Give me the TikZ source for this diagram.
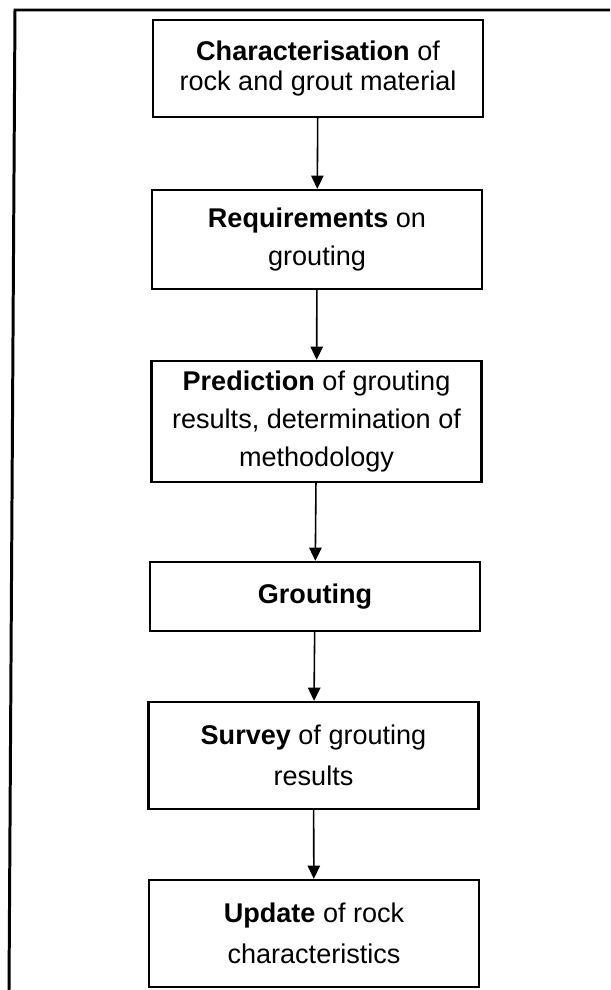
\documentclass[tikz,border=0pt]{standalone}
\usepackage{fontspec}
\setmainfont{Liberation Sans}
\usepackage{tikz}
\usetikzlibrary{shapes,arrows.meta}

\begin{document}
\begin{tikzpicture}[
    >={Triangle[length=7.5pt,width=7pt]},
    box/.style={rectangle, draw, line width=1.3pt, minimum width=6.6cm, align=center,
                font=\fontsize{15.4}{21.6}\selectfont},
    flow/.style={->, line width=0.9pt},
    frame/.style={line width=1.7pt}
]
    \useasboundingbox (0,0) rectangle (12.2,-19.8);

    % ---- outer frame ----
    \draw[frame] (12.2,-0.2) -- (0.3,-0.2) -- (0.18,-19.8);

    % ---- steps ----
    \node[box, minimum height=1.94cm, font=\fontsize{15.4}{16.8}\selectfont] (f_char) at (6.36, -1.37)
        {\textbf{Characterisation} of\\ rock and grout material};
    \node[box, minimum height=1.98cm] (f_req) at (6.34, -4.79) {\textbf{Requirements} on\\ grouting};
    \node[box, minimum height=2.42cm] (f_pred) at (6.33, -8.43)
        {\textbf{Prediction} of grouting\\ results, determination of\\ methodology};
    \node[box, minimum height=1.38cm] (f_grout) at (6.30, -11.93) {\textbf{Grouting}};
    \node[box, minimum height=2.14cm, font=\fontsize{15.4}{23.5}\selectfont] (f_surv) at (6.27, -15.11)
        {\textbf{Survey} of grouting\\ results};
    \node[box, minimum height=2.14cm, font=\fontsize{15.4}{23.5}\selectfont] (f_upd) at (6.28, -18.67)
        {\textbf{Update} of rock\\ characteristics};

    % ---- arrows ----
    \draw[flow] (f_char) -- (f_req);
    \draw[flow] (f_req) -- (f_pred);
    \draw[flow] (f_pred) -- (f_grout);
    \draw[flow] (f_grout) -- (f_surv);
    \draw[flow] (f_surv) -- (f_upd);
\end{tikzpicture}
\end{document}
